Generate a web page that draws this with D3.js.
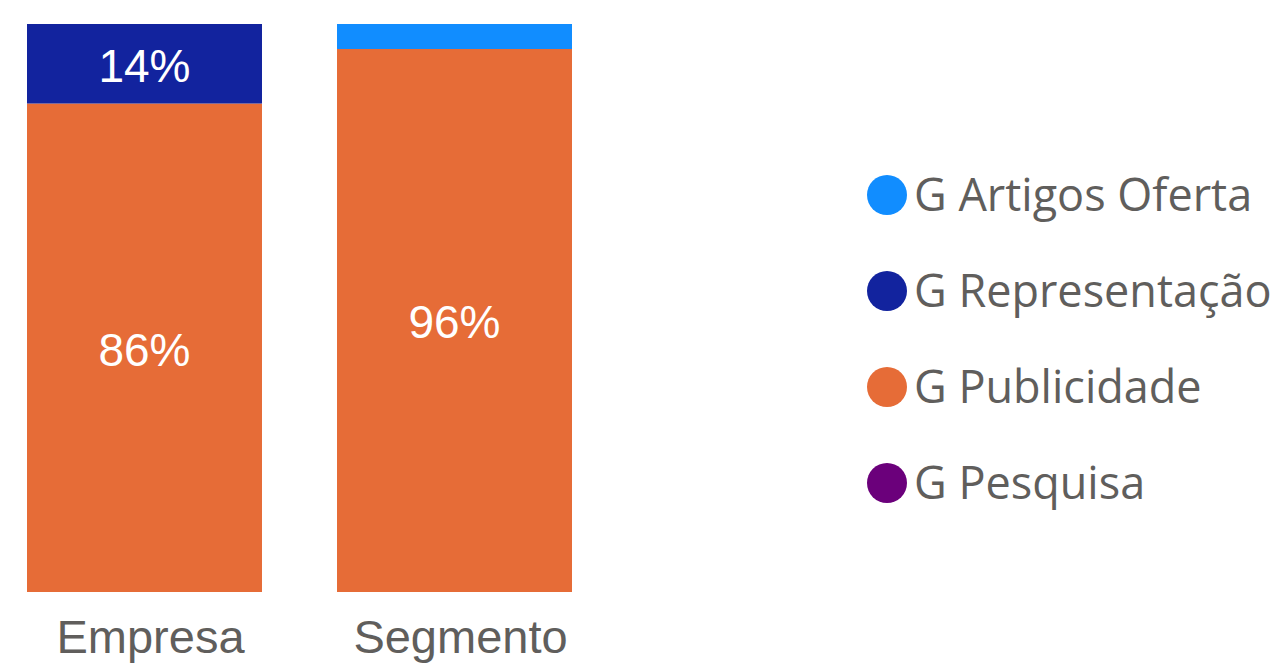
<!DOCTYPE html>
<html>
<head>
<meta charset="utf-8">
<script src="https://cdn.jsdelivr.net/npm/d3@7"></script>
<style>
  html, body { margin: 0; padding: 0; background: #fff; }
  #chart { width: 1277px; height: 663px; }
</style>
</head>
<body>
<div id="chart"></div>
<script>
const categories = ["Empresa", "Segmento"];
const seriesNames = ["G Artigos Oferta", "G Representação", "G Publicidade", "G Pesquisa"];
const artigosOferta = [0, 4.4];
const representacao = [14, 0];
const publicidade = [86, 95.6];
const pesquisa = [0, 0];
const seriesColors = ["#118dff", "#12239e", "#e66c37", "#6b007b"];

const width = 1277;
const height = 663;
const labelColor = "#605e5c";

const svg = d3
  .select("#chart")
  .append("svg")
  .attr("width", width)
  .attr("height", height);

// stacked bottom-up: Publicidade, Representação, Artigos Oferta, Pesquisa
const rows = categories.map((c, i) => ({
  cat: c,
  "G Publicidade": publicidade[i],
  "G Representação": representacao[i],
  "G Artigos Oferta": artigosOferta[i],
  "G Pesquisa": pesquisa[i],
}));
const stackKeys = ["G Publicidade", "G Representação", "G Artigos Oferta", "G Pesquisa"];
const stacked = d3.stack().keys(stackKeys)(rows);
const color = d3.scaleOrdinal().domain(seriesNames).range(seriesColors);

const x = d3.scaleBand().domain(categories).range([27, 572]).paddingInner(0.242).paddingOuter(0);
const y = d3.scaleLinear().domain([0, 100]).range([592, 24]);

const layers = svg
  .selectAll("g.layer")
  .data(stacked)
  .join("g")
  .attr("class", "layer")
  .attr("fill", (d) => color(d.key));

layers
  .selectAll("rect")
  .data((d) => d)
  .join("rect")
  .attr("x", (d) => x(d.data.cat))
  .attr("y", (d) => y(d[1]))
  .attr("width", x.bandwidth())
  .attr("height", (d) => y(d[0]) - y(d[1]));

// data labels (small segments are left unlabelled)
layers
  .selectAll("text")
  .data((d) => d.filter((p) => p[1] - p[0] >= 10))
  .join("text")
  .attr("x", (d) => x(d.data.cat) + x.bandwidth() / 2)
  .attr("y", (d) => (y(d[0]) + y(d[1])) / 2 + 2)
  .attr("text-anchor", "middle")
  .attr("dominant-baseline", "central")
  .attr("font-family", "'Liberation Sans', Arial, sans-serif")
  .attr("font-size", "46px")
  .attr("fill", "#fff")
  .text((d) => Math.round(d[1] - d[0]) + "%");

// category axis (labels sit a little right of bar centre, as in the original)
const xAxis = svg
  .append("g")
  .attr("transform", "translate(6,592)")
  .call(d3.axisBottom(x).tickSize(0).tickPadding(28));
xAxis.select(".domain").remove();
xAxis
  .selectAll("text")
  .attr("font-family", "'Liberation Sans', Arial, sans-serif")
  .attr("font-size", "47px")
  .attr("fill", labelColor)
  .attr("dy", "0.71em");

// legend
const legend = svg
  .selectAll("g.legend")
  .data(seriesNames)
  .join("g")
  .attr("class", "legend")
  .attr("transform", (d, i) => `translate(887,${195 + i * 96})`);

legend
  .append("circle")
  .attr("r", 20)
  .attr("fill", (d) => color(d));

legend
  .append("text")
  .attr("x", 27)
  .attr("dy", "0.35em")
  .attr("font-family", "'Open Sans', 'Noto Sans', sans-serif")
  .attr("font-size", "45px")
  .attr("fill", labelColor)
  .text((d) => d);
</script>
</body>
</html>
